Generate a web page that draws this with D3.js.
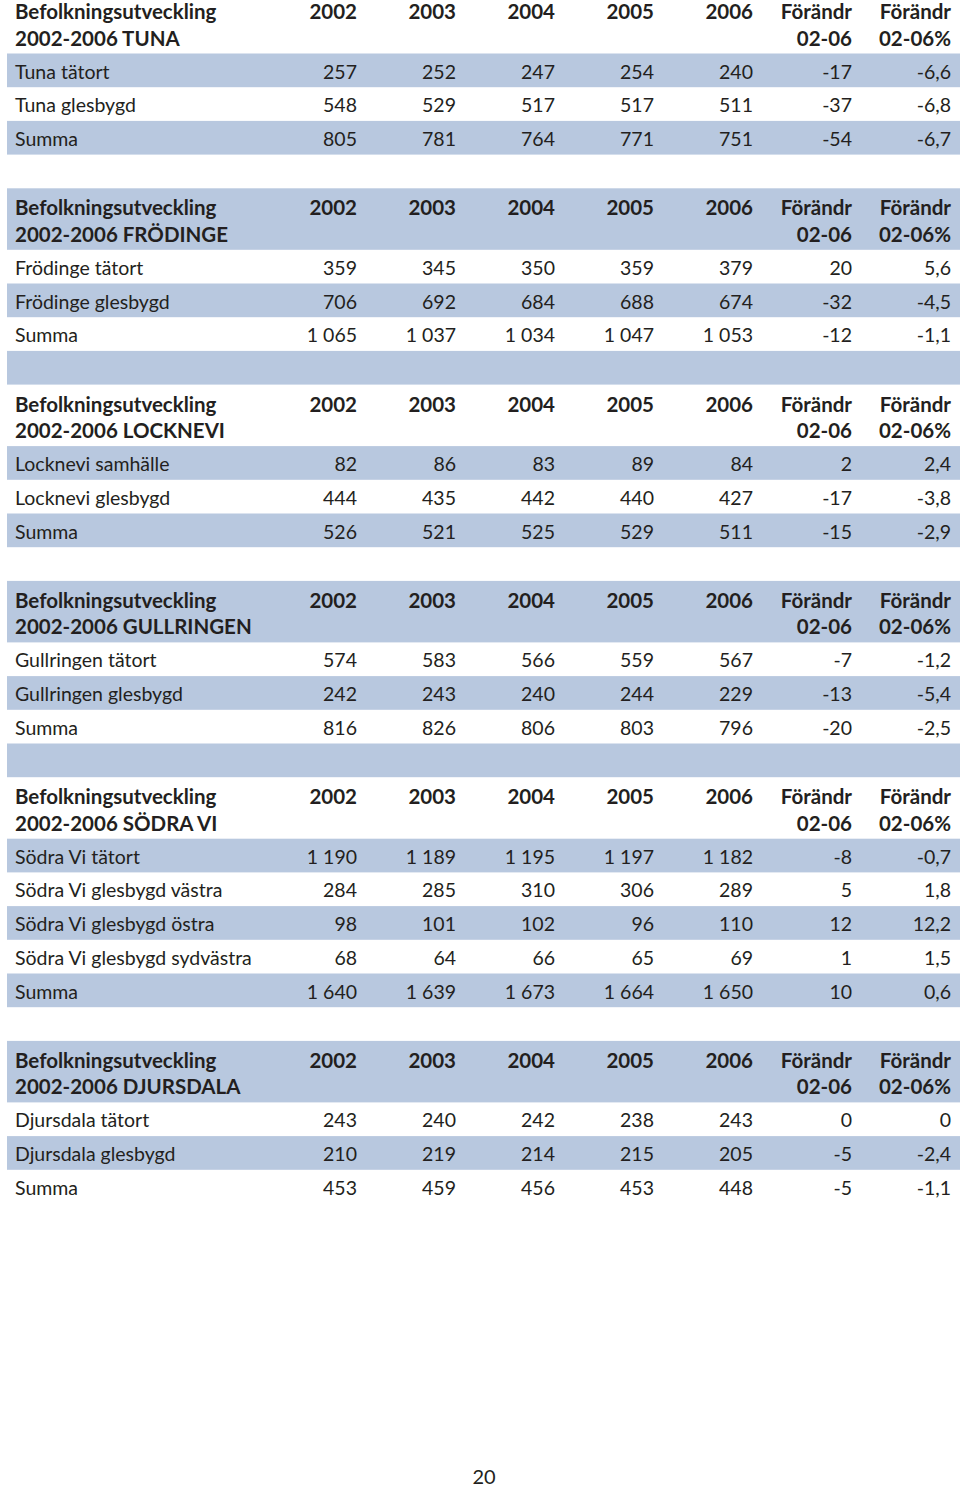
<!DOCTYPE html>
<html><head><meta charset="utf-8">
<script src="https://cdn.jsdelivr.net/npm/d3@7"></script>
<style>body{margin:0;background:#fff}svg{display:block}</style>
</head><body>
<script>
// ---- data ----
const columnHeads1 = ["2002","2003","2004","2005","2006","Förändr","Förändr"];
const columnHeads2 = ["","","","","","02-06","02-06%"];
const regionTitles = ["TUNA","FRÖDINGE","LOCKNEVI","GULLRINGEN","SÖDRA VI","DJURSDALA"];
const tunaRows = [
  ["Tuna tätort",257,252,247,254,240,-17,-6.6],
  ["Tuna glesbygd",548,529,517,517,511,-37,-6.8],
  ["Summa",805,781,764,771,751,-54,-6.7]];
const frodingeRows = [
  ["Frödinge tätort",359,345,350,359,379,20,5.6],
  ["Frödinge glesbygd",706,692,684,688,674,-32,-4.5],
  ["Summa",1065,1037,1034,1047,1053,-12,-1.1]];
const lockneviRows = [
  ["Locknevi samhälle",82,86,83,89,84,2,2.4],
  ["Locknevi glesbygd",444,435,442,440,427,-17,-3.8],
  ["Summa",526,521,525,529,511,-15,-2.9]];
const gullringenRows = [
  ["Gullringen tätort",574,583,566,559,567,-7,-1.2],
  ["Gullringen glesbygd",242,243,240,244,229,-13,-5.4],
  ["Summa",816,826,806,803,796,-20,-2.5]];
const sodraViRows = [
  ["Södra Vi tätort",1190,1189,1195,1197,1182,-8,-0.7],
  ["Södra Vi glesbygd västra",284,285,310,306,289,5,1.8],
  ["Södra Vi glesbygd östra",98,101,102,96,110,12,12.2],
  ["Södra Vi glesbygd sydvästra",68,64,66,65,69,1,1.5],
  ["Summa",1640,1639,1673,1664,1650,10,0.6]];
const djursdalaRows = [
  ["Djursdala tätort",243,240,242,238,243,0,0],
  ["Djursdala glesbygd",210,219,214,215,205,-5,-2.4],
  ["Summa",453,459,456,453,448,-5,-1.1]];
const pageNumber = "20";

// ---- layout ----
const W = 960, H = 1489;
const headerH = 61.5, rowH = 33.7, startY = -8;
const band = "#b8c8df", ink = "#231f20";
const font = "Lato, 'Open Sans', sans-serif";

const locale = d3.formatLocale({decimal:",", thousands:" ", grouping:[3], currency:["",""], minus:"-"});
const fInt = locale.format(",d");
const fPct = v => v === 0 ? "0" : locale.format(",.1f")(v);

const tables = [tunaRows, frodingeRows, lockneviRows, gullringenRows, sodraViRows, djursdalaRows];

const stripes = [];
tables.forEach((rows, ti) => {
  stripes.push({kind:"header", title: regionTitles[ti], h: headerH});
  rows.forEach(r => stripes.push({kind:"row", row:r, h: rowH}));
  if (ti < tables.length - 1) stripes.push({kind:"blank", h: rowH});
});
let yAcc = startY;
stripes.forEach((s,i) => { s.y = yAcc; yAcc += s.h; s.i = i; });

const x = d3.scaleLinear().domain([0, 6]).range([357, 951]);

const svg = d3.select("body").append("svg").attr("width", W).attr("height", H)
  .style("font-family", font);

svg.append("g").selectAll("rect").data(stripes.filter(s => s.i % 2 === 1)).join("rect")
  .attr("x", 7).attr("width", W - 7)
  .attr("y", s => s.y).attr("height", s => s.h)
  .attr("fill", band);

const g = svg.append("g").attr("fill", ink);

stripes.filter(s => s.kind === "header").forEach(s => {
  const hg = g.append("g").attr("font-weight", 700).attr("font-size", 20.5);
  const y1 = s.y + 27, y2 = s.y + 53.5;
  hg.append("text").attr("x", 15).attr("y", y1).text("Befolkningsutveckling");
  hg.append("text").attr("x", 15).attr("y", y2).text("2002-2006 " + s.title);
  hg.selectAll("text.c1").data(columnHeads1).join("text").attr("class","c1")
    .attr("x", (d,i) => x(i)).attr("y", y1).attr("text-anchor","end").text(d => d);
  hg.selectAll("text.c2").data(columnHeads2).join("text").attr("class","c2")
    .attr("x", (d,i) => x(i)).attr("y", y2).attr("text-anchor","end").text(d => d);
});

stripes.filter(s => s.kind === "row").forEach(s => {
  const rg = g.append("g").attr("font-size", 19.5);
  const cy = s.y + 25;
  rg.append("text").attr("x", 15).attr("y", cy).text(s.row[0]);
  rg.selectAll("text.v").data(s.row.slice(1)).join("text").attr("class","v")
    .attr("x", (d,i) => x(i)).attr("y", cy).attr("text-anchor","end")
    .text((d,i) => i === 6 ? fPct(d) : fInt(d));
});

svg.append("text").attr("x", 484).attr("y", 1484).attr("text-anchor","middle")
  .attr("font-size", 20).attr("fill", ink).text(pageNumber);
</script>
</body></html>
